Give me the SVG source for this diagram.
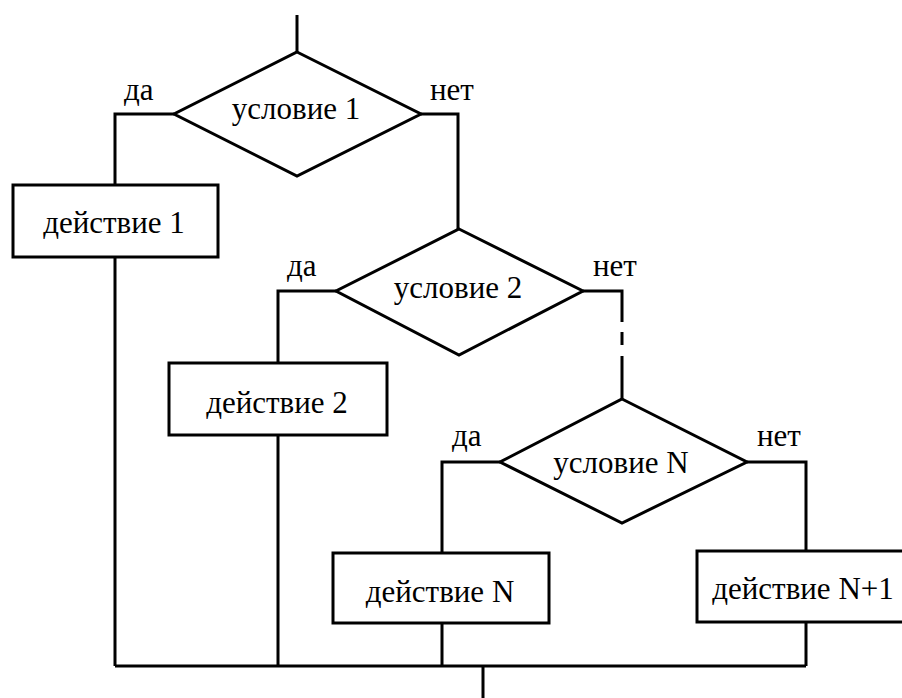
<svg xmlns="http://www.w3.org/2000/svg" width="902" height="698" viewBox="0 0 902 698">
<style>
.s{fill:#fff;stroke:#000;stroke-width:3}
.c{fill:none;stroke:#000;stroke-width:3}
text{font-family:"Liberation Serif","Times New Roman",serif;font-size:31px;fill:#000}
.m{text-anchor:middle}
</style>
<rect width="902" height="698" fill="#fff"/>
<g id="connectors">
<path class="c" d="M297,15V52"/>
<path class="c" d="M174,114H115V185M115,257V666"/>
<path class="c" d="M421,114H458V229"/>
<path class="c" d="M336,291H278V363M278,435V666"/>
<path class="c" d="M583,291H622V322M622,332V345M622,356V399"/>
<path class="c" d="M500,462H442V553M442,623V666"/>
<path class="c" d="M747,462H806V551M806,622V666"/>
<path class="c" d="M115,666H806M483,666V698"/>
</g>
<g id="cond1"><polygon class="s" points="297,52 421,114 297,176 174,114"/><text class="m" x="296" y="119">условие 1</text></g>
<g id="cond2"><polygon class="s" points="459,229 583,291 459,355 336,291"/><text class="m" x="458" y="298">условие 2</text></g>
<g id="condN"><polygon class="s" points="622,399 747,462 622,523 500,462"/><text class="m" x="621" y="473">условие N</text></g>
<g id="act1"><rect class="s" x="13" y="185" width="205" height="72"/><text class="m" x="114" y="233">действие 1</text></g>
<g id="act2"><rect class="s" x="169" y="363" width="218" height="72"/><text class="m" x="277" y="413">действие 2</text></g>
<g id="actN"><rect class="s" x="333" y="553" width="216" height="70"/><text class="m" x="440" y="602">действие N</text></g>
<g id="actN1"><rect class="s" x="697" y="551" width="210" height="71"/><text class="m" x="803" y="599">действие N+1</text></g>
<g id="labels">
<text x="124" y="100">да</text><text x="430" y="100">нет</text>
<text x="287" y="276">да</text><text x="593" y="276">нет</text>
<text x="452" y="446">да</text><text x="757" y="446">нет</text>
</g>
</svg>
